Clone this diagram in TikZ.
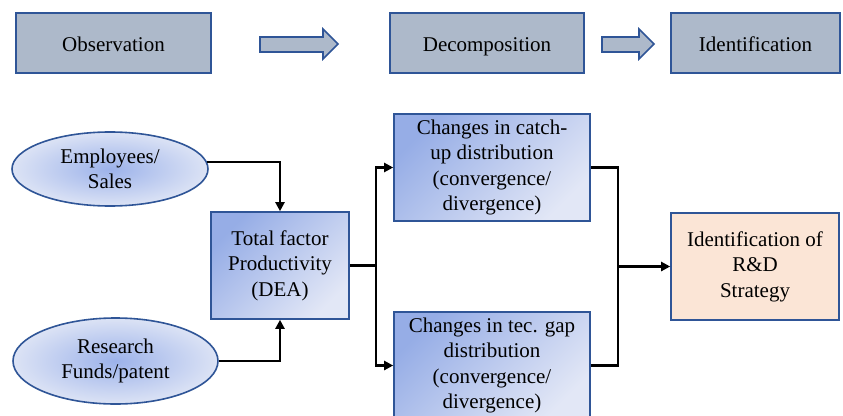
\documentclass[tikz,border=0pt]{standalone}
\usepackage{fontspec}
\setmainfont{Liberation Serif}
\newfontfamily\tnr{Liberation Serif}
\usetikzlibrary{arrows.meta,shapes.geometric,calc}
\definecolor{topfill}{HTML}{ADB9CA}
\definecolor{bord}{HTML}{2F5597}
\definecolor{gdark}{HTML}{96ADE6}
\definecolor{glight}{HTML}{E2E7F6}
\definecolor{edark}{HTML}{9CB2EA}
\definecolor{elight}{HTML}{DCE3F5}
\definecolor{rdfill}{HTML}{FBE5D6}
\definecolor{txt}{HTML}{000000}
\tikzset{
  lbl/.style={font=\tnr\fontsize{21}{25.5}\selectfont, text=txt, align=center},
  topbox/.style={lbl, draw=bord, line width=1.6pt, fill=topfill, minimum height=60pt, inner sep=0pt, text height=17pt, text depth=0pt},
  gradbox/.style={lbl, draw=bord, line width=1.6pt, top color=gdark, bottom color=glight, shading angle=45, minimum height=107pt, inner sep=0pt},
  ellbox/.style={lbl, ellipse, draw=bord, line width=1.6pt, inner color=edark, outer color=elight, inner sep=0pt},
  rdbox/.style={lbl, draw=bord, line width=1.6pt, fill=rdfill, minimum width=168pt, minimum height=107pt, inner sep=0pt},
  hollow/.style={draw=bord, line width=1.6pt, fill=topfill, line join=miter},
  line/.style={draw=black, line width=2.2pt},
  conn/.style={line, -{Triangle[length=9pt,width=9pt]}},
}
\begin{document}
\begin{tikzpicture}[x=1pt,y=-1pt]
\useasboundingbox (0,0) rectangle (843,415);
\clip (0,0) rectangle (843,415);
\fill[white] (0,0) rectangle (843,415);

% top row
\node[topbox, minimum width=195pt] (obs) at (113.5,43) {Observation};
\node[topbox, minimum width=194pt] (dec) at (487,43) {Decomposition};
\node[topbox, minimum width=169pt] (idf) at (755.5,43) {Identification};

\draw[hollow] (260,37) -- (323,37) -- (323,29) -- (338,44) -- (323,59) -- (323,52) -- (260,52) -- cycle;
\draw[hollow] (602,37) -- (639,37) -- (639,29) -- (654,44) -- (639,59) -- (639,52) -- (602,52) -- cycle;

% lower part
\node[ellbox, minimum width=196pt, minimum height=74pt] (emp) at (110,169) {Employees/\\Sales};
\node[ellbox, minimum width=205pt, minimum height=86pt] (res) at (115.5,361) {Research\\Funds/patent};
\node[gradbox, minimum width=138pt] (tfp) at (280,265.5) {Total factor\\Productivity\\(DEA)};
\node[gradbox, minimum width=196pt] (catch) at (492,167.5) {Changes in catch-\\up distribution\\(convergence/\\divergence)};
\node[gradbox, minimum width=196pt] (tec) at (492,365.5) {Changes in tec. gap\\distribution\\(convergence/\\divergence)};
\node[rdbox] (rd) at (755,266.5) {Identification of\\R\&D\\Strategy};

\coordinate (split) at ($(tfp.east)+(26,0)$);
\coordinate (join) at (618,267);

\draw[conn] (emp.4) -| (tfp.north);
\draw[conn] (res.east) -| (tfp.south);
\draw[line] (tfp.east) -- (split);
\draw[conn] (split) |- (catch.west);
\draw[conn] (split) |- (tec.west);
\draw[line] (catch.east) -| (join);
\draw[line] (tec.east) -| (join);
\draw[conn] (join |- rd.west) -- (rd.west);
\end{tikzpicture}
\end{document}
